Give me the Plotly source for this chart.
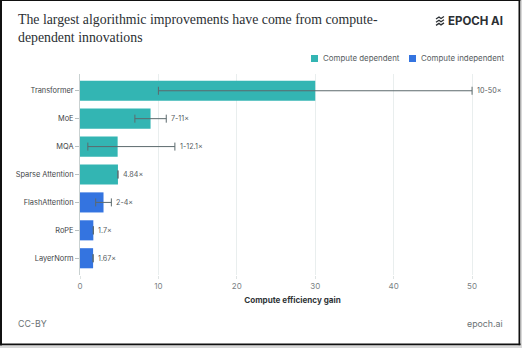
import plotly.graph_objects as go

# Innovations and their estimated compute-efficiency gains
innovations = ["Transformer", "MoE", "MQA", "Sparse Attention",
               "FlashAttention", "RoPE", "LayerNorm"]
central_gain = [30, 9, 4.8, 4.84, 3, 1.7, 1.67]
gain_low = [10, 7, 1, 4.84, 2, 1.7, 1.67]
gain_high = [50, 11, 12.1, 4.84, 4, 1.7, 1.67]
gain_labels = ["10-50×", "7-11×", "1-12.1×", "4.84×", "2-4×", "1.7×", "1.67×"]
category = ["Compute dependent"] * 4 + ["Compute independent"] * 3

series_names = ["Compute dependent", "Compute independent"]
series_colors = {"Compute dependent": "#33b5b3", "Compute independent": "#3474e0"}
x_ticks = [0, 10, 20, 30, 40, 50]

W, H = 522, 348
L, R, T, B = 80, 505, 74, 275   # plot area in pixels
X_MAX = 54.2

fig = go.Figure()
for name in series_names:
    idx = [i for i, c in enumerate(category) if c == name]
    fig.add_trace(go.Bar(
        orientation="h",
        y=[innovations[i] for i in idx],
        x=[central_gain[i] for i in idx],
        name=name,
        width=0.72,
        marker=dict(color=series_colors[name], line=dict(width=0)),
        error_x=dict(
            type="data", symmetric=False,
            array=[gain_high[i] - central_gain[i] for i in idx],
            arrayminus=[central_gain[i] - gain_low[i] for i in idx],
            color="#5c6a6d", thickness=1, width=4,
        ),
        showlegend=False,
        hoverinfo="skip",
    ))

annotations = []
for name, lbl, hi in zip(innovations, gain_labels, gain_high):
    annotations.append(dict(
        x=hi, y=name, xref="x", yref="y", text=lbl, showarrow=False,
        xanchor="left", yanchor="middle", xshift=3,
        font=dict(family="Inter", size=7.2, color="#555b5e"),
    ))


def px(x):
    return (x - L) / (R - L)


def py(y):
    return (B - y) / (B - T)


# Title, logo and footer
annotations += [
    dict(x=px(16), y=py(10), xref="paper", yref="paper", xanchor="left", yanchor="top",
         align="left", showarrow=False,
         text="The largest algorithmic improvements have come from compute-<br>dependent innovations",
         font=dict(family="Liberation Serif", size=13.8, color="#2b2f33")),
    dict(x=px(505), y=py(21), xref="paper", yref="paper", xanchor="right", yanchor="middle",
         showarrow=False, text="<b>EPOCH AI</b>",
         font=dict(family="Inter", size=11.5, color="#2b2f33")),
    dict(x=px(16), y=py(323), xref="paper", yref="paper", xanchor="left", yanchor="middle",
         showarrow=False, text="CC-BY", font=dict(family="Inter", size=8.8, color="#6b7275")),
    dict(x=px(505), y=py(323), xref="paper", yref="paper", xanchor="right", yanchor="middle",
         showarrow=False, text="epoch.ai", font=dict(family="Inter", size=8.8, color="#6b7275")),
]

shapes = []
# Legend swatches and labels
legend_items = [("Compute dependent", 311, 321), ("Compute independent", 409, 419)]
for name, sx, tx in legend_items:
    shapes.append(dict(type="rect", xref="paper", yref="paper",
                       x0=px(sx), x1=px(sx + 7), y0=py(62), y1=py(55),
                       fillcolor=series_colors[name], line=dict(width=0)))
    annotations.append(dict(x=px(tx), y=py(58.5), xref="paper", yref="paper",
                            xanchor="left", yanchor="middle", showarrow=False, text=name,
                            font=dict(family="Inter", size=7.9, color="#555b5e")))

# Logo mark: three stacked slanted strokes
for k in range(3):
    y0 = 17 + k * 3.2
    shapes.append(dict(type="path", xref="paper", yref="paper",
                       path=f"M {px(436)},{py(y0 + 2)} L {px(439)},{py(y0)} L {px(441)},{py(y0 + 1.5)} L {px(444)},{py(y0 - 0.5)}",
                       line=dict(color="#2b2f33", width=1.3)))

# Frame around the card
frame = "#111111"
shapes += [
    dict(type="rect", xref="paper", yref="paper", x0=px(0), x1=px(2), y0=py(348), y1=py(0),
         fillcolor=frame, line=dict(width=0), layer="above"),
    dict(type="rect", xref="paper", yref="paper", x0=px(0), x1=px(522), y0=py(1), y1=py(0),
         fillcolor=frame, line=dict(width=0), layer="above"),
    dict(type="rect", xref="paper", yref="paper", x0=px(518.5), x1=px(520.5), y0=py(345.5), y1=py(0),
         fillcolor=frame, line=dict(width=0), layer="above"),
    dict(type="rect", xref="paper", yref="paper", x0=px(520.5), x1=px(522), y0=py(348), y1=py(0),
         fillcolor="#d8d8d8", line=dict(width=0), layer="above"),
    dict(type="rect", xref="paper", yref="paper", x0=px(0), x1=px(520.5), y0=py(345.5), y1=py(343.5),
         fillcolor=frame, line=dict(width=0), layer="above"),
    dict(type="rect", xref="paper", yref="paper", x0=px(0), x1=px(522), y0=py(348), y1=py(345.5),
         fillcolor="#d8d8d8", line=dict(width=0), layer="above"),
]

fig.update_layout(
    width=W, height=H,
    margin=dict(l=L, r=W - R, t=T, b=H - B, pad=0, autoexpand=False),
    paper_bgcolor="white", plot_bgcolor="white",
    barmode="relative",
    showlegend=False,
    annotations=annotations,
    shapes=shapes,
    font=dict(family="Inter", color="#444"),
    xaxis=dict(
        range=[0, X_MAX], tickvals=x_ticks, ticktext=[str(v) for v in x_ticks],
        showgrid=True, gridcolor="#e9eeee", gridwidth=1, zeroline=False,
        ticks="outside", ticklen=3, tickcolor="#dfe4e4",
        tickfont=dict(family="Inter", size=8, color="#7a8184"),
        title=dict(text="<b>Compute efficiency gain</b>", standoff=7,
                   font=dict(family="Inter", size=8.1, color="#2f3437")),
        showline=False, fixedrange=True, automargin=False,
    ),
    yaxis=dict(
        categoryorder="array", categoryarray=innovations,
        range=[6.6, -0.6], showgrid=False, zeroline=False,
        showline=True, linecolor="#c9d1d1", linewidth=1,
        ticks="outside", ticklen=4, tickcolor="#b9c1c1",
        tickfont=dict(family="Inter", size=7.4, color="#3f4548"),
        fixedrange=True, automargin=False,
    ),
)

fig.write_html("out.html")
